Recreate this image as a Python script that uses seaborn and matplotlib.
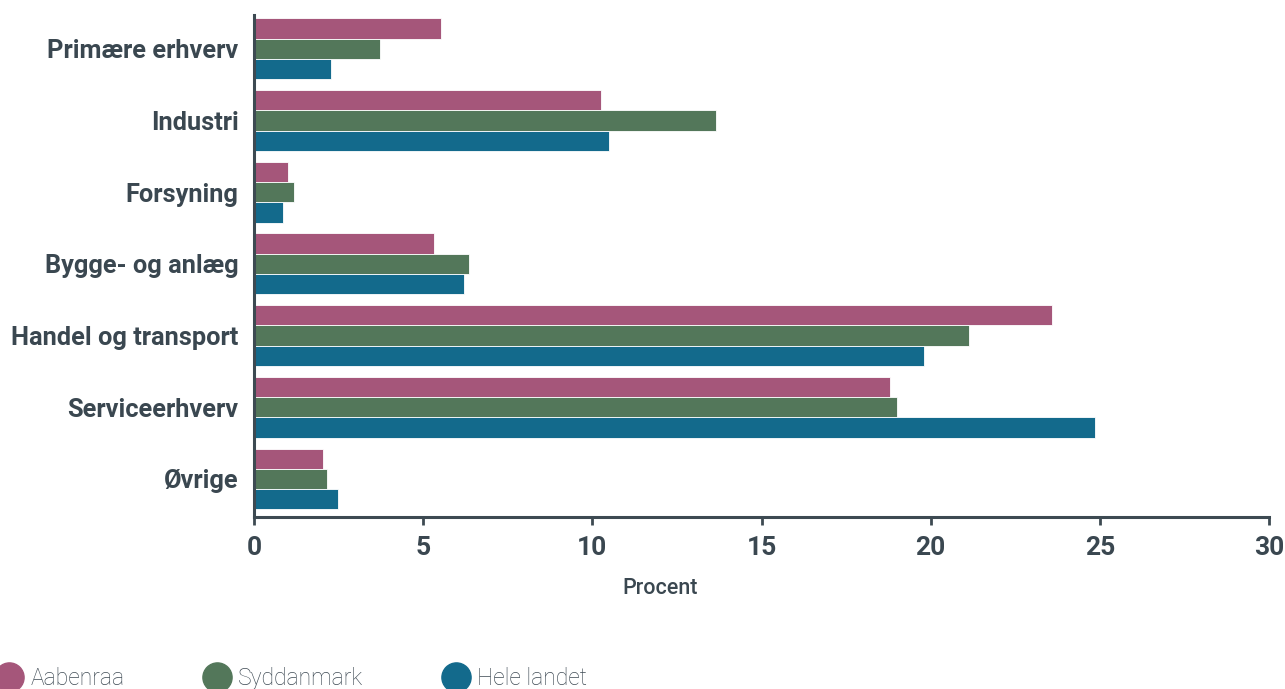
import pandas as pd
import matplotlib.pyplot as plt
import seaborn as sns
from matplotlib.lines import Line2D

categories = ["Primære erhverv", "Industri", "Forsyning", "Bygge- og anlæg",
              "Handel og transport", "Serviceerhverv", "Øvrige"]
series = ["Aabenraa", "Syddanmark", "Hele landet"]
aabenraa = [5.53, 10.26, 1.00, 5.32, 23.59, 18.80, 2.04]
syddanmark = [3.72, 13.66, 1.18, 6.36, 21.13, 19.00, 2.16]
hele_landet = [2.28, 10.49, 0.86, 6.21, 19.80, 24.86, 2.48]
x_ticks = [0, 5, 10, 15, 20, 25, 30]
colors = ["#A5567A", "#53775A", "#136A8C"]

df = pd.DataFrame({
    "kategori": categories * 3,
    "serie": [s for s in series for _ in categories],
    "procent": aabenraa + syddanmark + hele_landet,
})

sns.set_style("white")
plt.rcParams["font.family"] = ["Roboto", "DejaVu Sans"]
text_color = "#3a4750"

fig = plt.figure(figsize=(12.85, 6.89), dpi=100)
ax = fig.add_axes([254 / 1285, 1 - 517 / 689, (1269 - 254) / 1285, (517 - 15) / 689])

sns.barplot(
    data=df, x="procent", y="kategori", hue="serie",
    palette=colors, saturation=1, orient="h", width=0.85, gap=0,
    edgecolor="white", linewidth=0.6, ax=ax, legend=False,
)

ax.set_xlim(0, 30)
ax.set_ylim(6.53, -0.47)
ax.set_xticks(x_ticks)
ax.set_xticklabels([str(t) for t in x_ticks], fontsize=19, fontweight="bold", color=text_color)
ax.set_yticks(range(len(categories)))
ax.set_yticklabels(categories, fontsize=18.3, fontweight="bold", color=text_color)
ax.set_ylabel("")
ax.set_xlabel("Procent", fontsize=15.5, fontweight="medium", color=text_color)
ax.xaxis.set_label_coords((660 - 254) / 1015, -0.121)

for side in ["top", "right"]:
    ax.spines[side].set_visible(False)
for side in ["left", "bottom"]:
    ax.spines[side].set_color("#3d4a52")
    ax.spines[side].set_linewidth(2.2)
ax.tick_params(axis="x", length=6, width=2, color="#3d4a52", pad=8, direction="out", bottom=True)
ax.tick_params(axis="y", length=0, pad=11)

handles = [Line2D([], [], marker="o", linestyle="", markersize=21,
                  markerfacecolor=c, markeredgecolor=c) for c in colors]
fig.legend(handles, series, loc="center left", bbox_to_anchor=(-0.0105, 0.015),
           ncol=3, frameon=False, handletextpad=-0.08,
           columnspacing=3.03, borderpad=0, borderaxespad=0,
           prop={"family": ["Roboto", "DejaVu Sans"], "weight": "light", "size": 16.5},
           labelcolor="#3e4a54")

fig.savefig("out.png", dpi=100)
